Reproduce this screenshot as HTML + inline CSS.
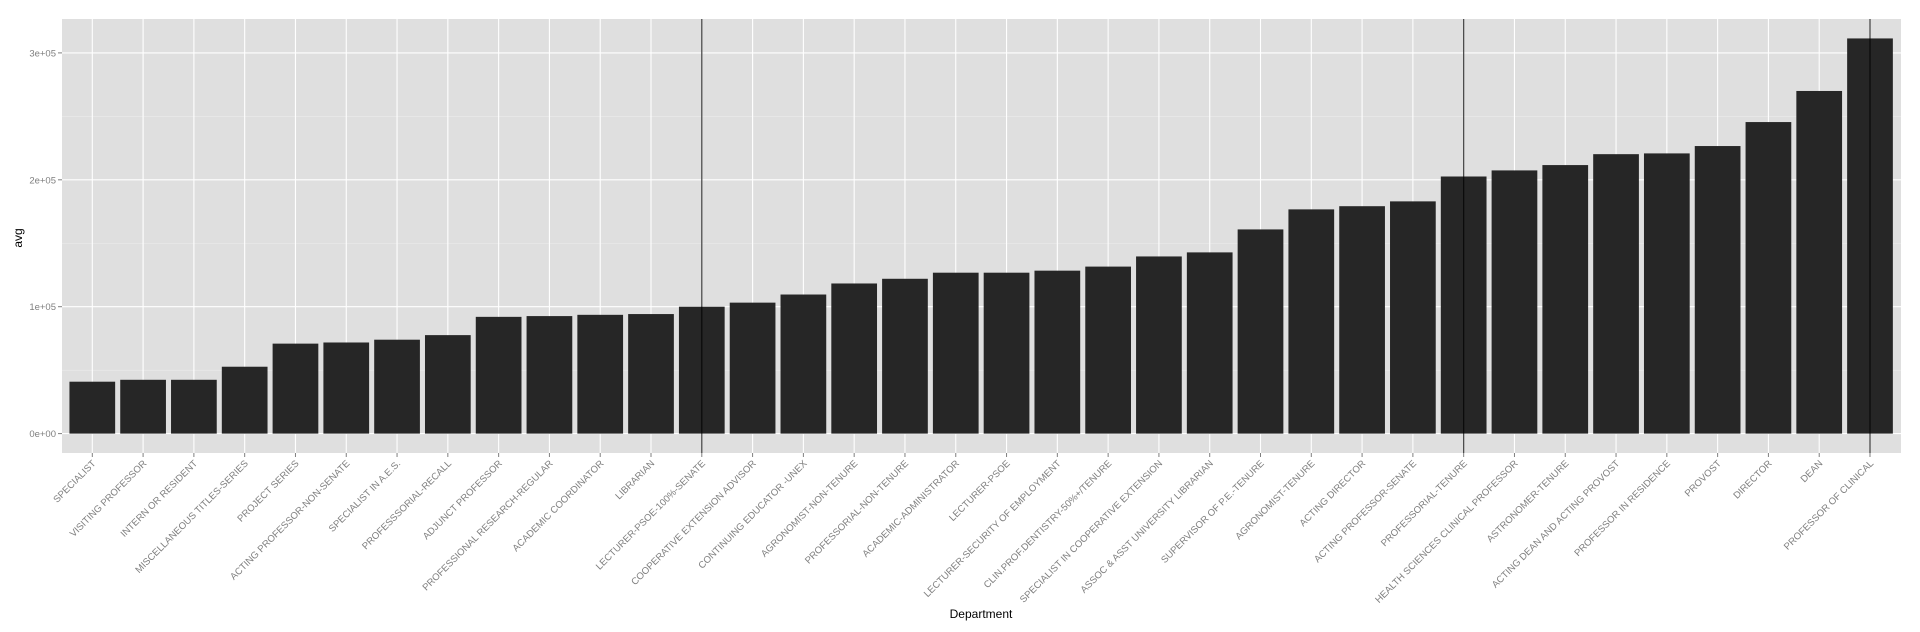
<!DOCTYPE html>
<html><head><meta charset="utf-8"><style>
html,body{margin:0;padding:0;background:#fff;}
svg{display:block;font-family:"Liberation Sans",Arial,sans-serif;}
</style></head><body>
<svg id="chart" width="1920" height="632" viewBox="0 0 1920 632" xmlns="http://www.w3.org/2000/svg"></svg>
<script>
const categories = ["SPECIALIST","VISITING PROFESSOR","INTERN OR RESIDENT","MISCELLANEOUS TITLES-SERIES","PROJECT SERIES","ACTING PROFESSOR-NON-SENATE","SPECIALIST IN A.E.S.","PROFESSSORIAL-RECALL","ADJUNCT PROFESSOR","PROFESSIONAL RESEARCH-REGULAR","ACADEMIC COORDINATOR","LIBRARIAN","LECTURER-PSOE-100%-SENATE","COOPERATIVE EXTENSION ADVISOR","CONTINUING EDUCATOR -UNEX","AGRONOMIST-NON-TENURE","PROFESSORIAL-NON-TENURE","ACADEMIC-ADMINISTRATOR","LECTURER-PSOE","LECTURER-SECURITY OF EMPLOYMENT","CLIN.PROF.DENTISTRY-50%+/TENURE","SPECIALIST IN COOPERATIVE EXTENSION","ASSOC & ASST UNIVERSITY LIBRARIAN","SUPERVISOR OF P.E.-TENURE","AGRONOMIST-TENURE","ACTING DIRECTOR","ACTING PROFESSOR-SENATE","PROFESSORIAL-TENURE","HEALTH SCIENCES CLINICAL PROFESSOR","ASTRONOMER-TENURE","ACTING DEAN AND ACTING PROVOST","PROFESSOR IN RESIDENCE","PROVOST","DIRECTOR","DEAN","PROFESSOR OF CLINICAL"];
const avgValues = [40900,42400,42400,52700,70900,71800,74000,77600,92000,92600,93600,94200,100000,103200,109600,118300,122000,126800,126800,128400,131600,139600,142800,160900,176700,179200,183000,202600,207400,211600,220200,220800,226600,245500,270000,311400];
const yTicks = [0,100000,200000,300000];
const yTickLabels = ["0e+00","1e+05","2e+05","3e+05"];
const yMinor = [50000,150000,250000];
const vlineCategories = ["LECTURER-PSOE-100%-SENATE","PROFESSORIAL-TENURE","PROFESSOR OF CLINICAL"];

const NS="http://www.w3.org/2000/svg";
const svg=document.getElementById('chart');
const P={l:62,t:19,r:1901,b:453};
const y0=433.6, pxPer=126.9/100000;
const first=92.3, step=(1870-92.3)/35;
function y(v){return y0-v*pxPer;}
function x(i){return first+i*step;}
function mk(tag,attrs,parent){const e=document.createElementNS(NS,tag);for(const k in attrs)e.setAttribute(k,attrs[k]);(parent||svg).appendChild(e);return e;}

const panel=mk('rect',{x:P.l,y:P.t,width:P.r-P.l,height:P.b-P.t,fill:'#dfdfdf'});


yMinor.forEach(v=>{const l=mk('line',{x1:P.l,x2:P.r,y1:y(v),y2:y(v),stroke:'#ececec','stroke-width':0.6});

});
yTicks.forEach((v,i)=>{const l=mk('line',{x1:P.l,x2:P.r,y1:y(v),y2:y(v),stroke:'#fff','stroke-width':1.1});


const t=mk('line',{x1:P.l-4,x2:P.l,y1:y(v),y2:y(v),stroke:'#7f7f7f','stroke-width':1});


const tx=mk('text',{x:P.l-6,y:y(v)+3.5,'text-anchor':'end','font-size':'9.5',fill:'#7f7f7f'});
tx.textContent=yTickLabels[i];

});
categories.forEach((c,i)=>{const l=mk('line',{x1:x(i),x2:x(i),y1:P.t,y2:P.b,stroke:'#fff','stroke-width':1.1});

});
const bw=step*0.9;
categories.forEach((c,i)=>{const b=mk('rect',{x:x(i)-bw/2,y:y(avgValues[i]),width:bw,height:y(0)-y(avgValues[i]),fill:'#262626'});


const t=mk('line',{x1:x(i),x2:x(i),y1:P.b,y2:P.b+4,stroke:'#7f7f7f','stroke-width':1});


const tx=mk('text',{x:0,y:0,'text-anchor':'end','font-size':'9.6',fill:'#7f7f7f',transform:`translate(${x(i)+4},${P.b+11}) rotate(-45)`});
tx.textContent=c;

});
vlineCategories.forEach(c=>{const i=categories.indexOf(c);
const l=mk('line',{x1:x(i),x2:x(i),y1:P.t,y2:P.b,stroke:'#000','stroke-width':1.2,'stroke-opacity':0.75});

});
const xt=mk('text',{x:981,y:618,'text-anchor':'middle','font-size':'12',fill:'#000'});
xt.textContent='Department';


const yt=mk('text',{x:0,y:0,'text-anchor':'middle','font-size':'12',fill:'#000',transform:'translate(22,238) rotate(-90)'});
yt.textContent='avg';


</script>
</body></html>
